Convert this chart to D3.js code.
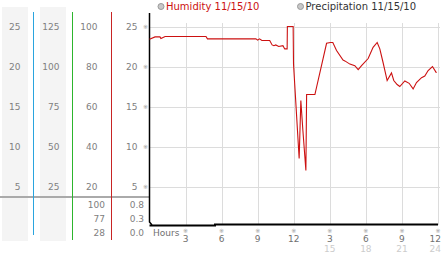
<!DOCTYPE html>
<html><head><meta charset="utf-8">
<script src="https://cdn.jsdelivr.net/npm/d3@7"></script>
<style>
html,body{margin:0;padding:0;background:#fff;}
svg{display:block;font-family:"DejaVu Sans",sans-serif;}
</style></head>
<body>
<script>
// ---- data ----
const hours = [0,0.46,0.87,0.95,1.3,4.7,4.82,8.85,9.0,9.15,9.35,10.0,10.2,10.35,10.5,10.75,11.1,11.25,11.45,11.47,11.95,11.98,12.45,12.59,12.76,13.01,13.07,13.76,14.73,15.05,15.25,15.56,16.1,16.25,16.67,17.08,17.36,17.64,18.19,18.6,18.94,19.16,19.43,19.77,20.13,20.32,20.6,20.82,21.24,21.6,21.93,22.21,22.63,22.9,23.18,23.54,23.87];
const humidity = [23.4,23.7,23.7,23.5,23.75,23.75,23.45,23.45,23.3,23.45,23.25,23.25,22.7,22.6,22.7,22.5,22.6,22.2,22.2,25,25,20.3,8.5,15.75,12,7,16.5,16.5,22.9,23,23,22,20.8,20.7,20.3,20.1,19.6,20.1,21,22.4,23,22.2,20.5,18.25,19.2,18.25,17.75,17.5,18.2,17.9,17.2,18,18.6,18.8,19.5,20,19.2];
const precipHours = [0,5.4,5.45,24];
const precipitation = [0,0,0.04,0.04];
const col1Ticks = [5,10,15,20,25];
const col2Ticks = [25,50,75,100,125];
const col3Ticks = [20,40,60,80,100];
const col4Ticks = [5,10,15,20,25];
const col3Lower = ["100","77","28"];
const col4Lower = ["0.8","0.3","0.0"];
const xTicks = [3,6,9,12,15,18,21,24];
const legendLabels = ["Humidity 11/15/10","Precipitation 11/15/10"];

const W=442,H=253;
const svg=d3.select("body").append("svg").attr("width",W).attr("height",H);

const x=d3.scaleLinear().domain([0,24]).range([149.5,438]);
const y=d3.scaleLinear().domain([0,25]).range([226.5,26.5]);
const y2=d3.scaleLinear().domain([0,125]).range([226.5,26.5]);
const y3=d3.scaleLinear().domain([0,100]).range([226.5,26.5]);
const yP=d3.scaleLinear().domain([0,0.8]).range([225.5,205]);
const yLow=d3.scalePoint().domain([0,1,2]).range([205,233]);

// gray bands
svg.append("rect").attr("x",2).attr("y",7).attr("width",26).attr("height",234).attr("fill","#f4f4f4");
svg.append("rect").attr("x",40).attr("y",7).attr("width",26).attr("height",234).attr("fill","#f4f4f4");

// gridlines
svg.append("g").selectAll("line").data(col1Ticks).join("line")
  .attr("x1",150).attr("x2",440).attr("y1",d=>Math.round(y(d))+0.5).attr("y2",d=>Math.round(y(d))+0.5)
  .attr("stroke","#dcdcdc");
svg.append("g").selectAll("line").data(xTicks).join("line")
  .attr("x1",d=>Math.round(x(d))+0.5).attr("x2",d=>Math.round(x(d))+0.5).attr("y1",23).attr("y2",225)
  .attr("stroke","#dcdcdc");

// separator
svg.append("line").attr("x1",0).attr("x2",150).attr("y1",197).attr("y2",197).attr("stroke","#aaa").attr("stroke-width",2);

// colored vertical lines
svg.append("rect").attr("x",33).attr("y",12).attr("width",1.3).attr("height",223).attr("fill","#2aa4de").attr("shape-rendering","crispEdges");
svg.append("rect").attr("x",72).attr("y",12).attr("width",1.3).attr("height",228).attr("fill","#2db52d").attr("shape-rendering","crispEdges");
svg.append("rect").attr("x",111).attr("y",12).attr("width",1.3).attr("height",228).attr("fill","#c82424").attr("shape-rendering","crispEdges");

// left axes
function labAxis(scale,ticks,xpos,anchor){
  const g=svg.append("g").attr("transform",`translate(${xpos},0)`)
    .call(d3.axisLeft(scale).tickValues(ticks).tickSize(0).tickPadding(0));
  g.select(".domain").remove();
  g.selectAll("text").attr("font-size",9).attr("font-family","DejaVu Sans, sans-serif")
    .attr("fill","#808080").attr("text-anchor",anchor).attr("dy","0.33em");
  return g;
}
labAxis(y,col1Ticks,20.5,"end");
labAxis(y2,col2Ticks,59.5,"end");
labAxis(y3,col3Ticks,97.5,"end");
labAxis(y,col4Ticks,137.5,"end");

// tiny tick glyphs on y
svg.append("g").selectAll("text").data(col4Ticks).join("text")
  .attr("x",145.5).attr("y",d=>y(d)).attr("dy","0.35em").attr("text-anchor","middle")
  .attr("font-size",6).attr("fill","#999").text("※");

// lower labels
svg.append("g").selectAll("text").data(col3Lower).join("text")
  .attr("x",105).attr("y",(d,i)=>yLow(i)).attr("dy","0.33em").attr("text-anchor","end")
  .attr("font-size",9).attr("fill","#808080").text(d=>d);
svg.append("g").selectAll("text").data(col4Lower).join("text")
  .attr("x",144).attr("y",(d,i)=>yLow(i)).attr("dy","0.33em").attr("text-anchor","end")
  .attr("font-size",9).attr("fill","#808080").text(d=>d);

// x axis labels
svg.append("text").attr("x",153).attr("y",235.5).attr("font-size",9).attr("fill","#707070").text("Hours");
const xg=svg.append("g");
const lx=d=>d===24?441:x(d);
const la=d=>d===24?"end":"middle";
xg.selectAll("text.tk").data(xTicks).join("text").attr("class","tk")
  .attr("x",d=>x(d)).attr("y",231).attr("dy","0.35em").attr("text-anchor","middle")
  .attr("font-size",6).attr("fill","#999").text("※");
xg.selectAll("text.lb").data(xTicks).join("text").attr("class","lb")
  .attr("x",lx).attr("y",241.5).attr("text-anchor",la)
  .attr("font-size",9).attr("fill","#707070").text(d=>d>12?d-12:d);
xg.selectAll("text.lb2").data(xTicks.filter(d=>d>12)).join("text").attr("class","lb2")
  .attr("x",lx).attr("y",251.5).attr("text-anchor",la)
  .attr("font-size",9).attr("fill","#cccccc").text(d=>d);

// y axis line
svg.append("path").attr("d",`M149.5,13 L149.5,222 L152,225`).attr("fill","none").attr("stroke","#000").attr("stroke-width",1.5);

// precipitation
const pData=precipHours.map((h,i)=>[h,precipitation[i]]);
svg.append("path").datum(pData).attr("fill","none").attr("stroke","#000").attr("stroke-width",2)
  .attr("d",d3.line().x(d=>x(d[0])).y(d=>yP(d[1])).curve(d3.curveStepAfter));

// humidity
const hData=hours.map((h,i)=>[h,humidity[i]]);
svg.append("path").datum(hData).attr("fill","none").attr("stroke","#cc1111").attr("stroke-width",1.1)
  .attr("d",d3.line().x(d=>x(d[0])).y(d=>y(d[1])));

// legend
const leg=[{x:161,c:"#cc1111"},{x:300.5,c:"#333"}];
leg.forEach((l,i)=>{
  svg.append("circle").attr("cx",l.x).attr("cy",6.5).attr("r",3).attr("fill","#c8c8c8").attr("stroke","#999");
  svg.append("text").attr("x",l.x+5).attr("y",10).attr("font-size",10).attr("fill",l.c).text(legendLabels[i]);
});
</script>
</body></html>
